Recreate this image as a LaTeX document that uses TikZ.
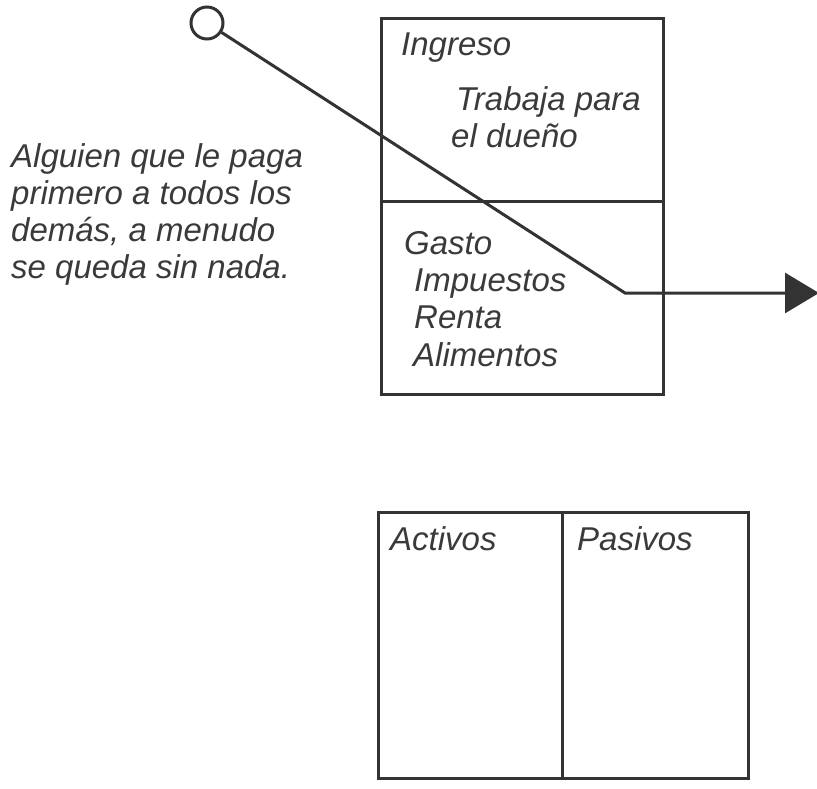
\documentclass[tikz,border=0pt]{standalone}
\usepackage{fontspec}
\setmainfont{Liberation Sans}
\usetikzlibrary{arrows.meta}
\definecolor{ink}{HTML}{333333}
\definecolor{txt}{HTML}{3A3A3A}
\tikzset{
  frame/.style={draw=ink, line width=3pt, rectangle, inner sep=0pt, anchor=north west},
  lbl/.style={anchor=base west, inner sep=0pt, text=txt, font=\fontsize{33}{37}\selectfont\itshape},
  wire/.style={draw=ink, line width=3pt, line join=miter},
}
\begin{document}
\begin{tikzpicture}[x=1pt,y=-1pt]
\useasboundingbox (0,0) rectangle (817,788);
% top box
\node[frame, minimum width=282pt, minimum height=376pt] (top) at (380,17) {};
\coordinate (dl) at (380,201);
\coordinate (dr) at (662,201);
\draw[wire] (dl) -- (dr);
% bottom box
\node[frame, minimum width=370pt, minimum height=266pt] (bot) at (377,511) {};
\coordinate (vt) at (562,511);
\coordinate (vb) at (562,777);
\draw[wire] (vt) -- (vb);
% texts
\node[lbl] (ingreso) at (401,55) {Ingreso};
\node[lbl] (trabaja) at (456,110) {Trabaja para};
\node[lbl] (dueno) at (451,147) {el dueño};
\node[lbl] (gasto) at (404,254) {Gasto};
\node[lbl] (imp) at (414,291) {Impuestos};
\node[lbl] (renta) at (414,328) {Renta};
\node[lbl] (alim) at (413,366) {Alimentos};
\node[lbl] (activos) at (390,550) {Activos};
\node[lbl] (pasivos) at (577,550) {Pasivos};
\node[lbl, align=left, anchor=north west] (left) at (11,143) {Alguien que le paga\\primero a todos los\\demás, a menudo\\se queda sin nada.};
% connector
\node[draw=ink, line width=3pt, circle, minimum size=32pt, inner sep=0pt] (start) at (207,23) {};
\coordinate (bend) at (625,293);
\coordinate (tip) at (819,293);
\draw[wire, -{Triangle[length=34pt, width=40pt]}] (start) -- (bend) -- (tip);
\end{tikzpicture}
\end{document}
